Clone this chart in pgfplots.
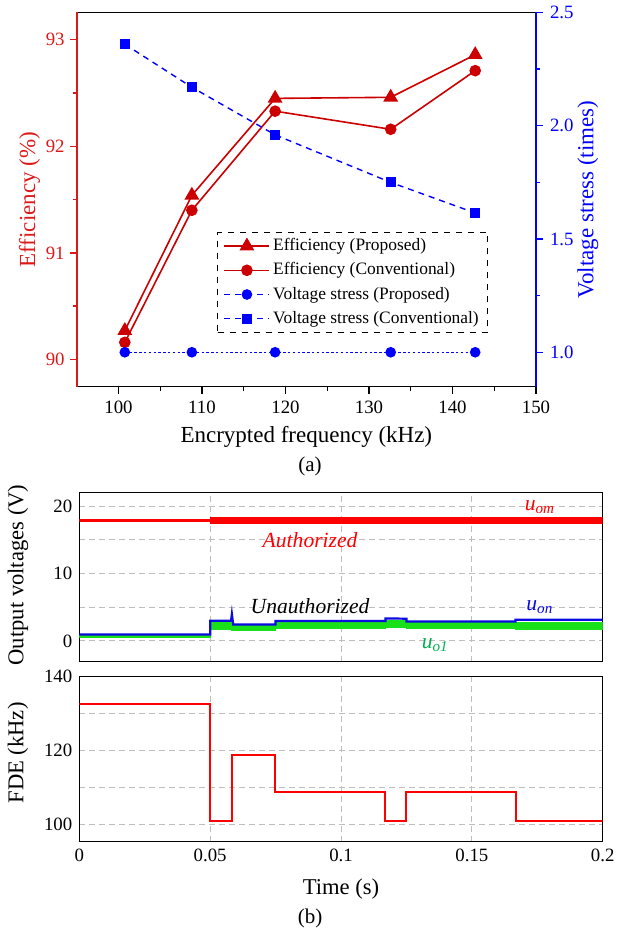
\documentclass[border=0pt]{standalone}
\usepackage{fontspec}
\setmainfont{Liberation Serif}
\usepackage{pgfplots}
\pgfplotsset{compat=1.18}
\definecolor{effred}{RGB}{204,0,0}
\definecolor{axred}{RGB}{220,25,25}
\definecolor{vblue}{RGB}{0,0,255}
\definecolor{simred}{RGB}{255,0,0}
\definecolor{simgreen}{RGB}{25,225,25}
\definecolor{lblgreen}{RGB}{0,176,80}
\definecolor{simblue}{RGB}{10,10,225}
\definecolor{gridgray}{RGB}{190,190,190}
\pgfplotsset{every axis/.append style={/pgf/number format/assume math mode=true}}
\begin{document}
\begin{tikzpicture}
\path[use as bounding box] (0,0) rectangle (309.5pt,-465.5pt);
% ---------------- (a) left axis ----------------
\begin{axis}[
  at={(38.35pt,-6.25pt)}, anchor=north west,
  scale only axis, width=229.65pt, height=187.1pt,
  xmin=95, xmax=150, ymin=89.744, ymax=93.256,
  separate axis lines,
  x axis line style={black, line width=0.6pt},
  y axis line style={axred, line width=0.8pt},
  xtick={100,110,120,130,140,150}, minor x tick num=1,
  ytick={90,91,92,93}, minor y tick num=1,
  xtick pos=bottom, ytick pos=left,
  tick align=outside, major tick length=3.5pt, minor tick length=2pt,
  xtick style={black, line width=0.6pt},
  ytick style={axred, line width=0.7pt},
  tick label style={font=\fontsize{9.4}{10}\selectfont},
  yticklabel style={axred, xshift=1pt},
  xlabel={Encrypted frequency (kHz)},
  xlabel style={at={(axis description cs:0.5,-0.134)}, anchor=center, font=\fontsize{11.5}{13}\selectfont},
  ylabel={Efficiency (\%)},
  ylabel style={at={(axis description cs:-0.103,0.5)}, anchor=center, axred, font=\fontsize{11.5}{13}\selectfont},
]
\addplot[effred, line width=0.8pt, mark=triangle*, mark size=3.5pt, mark options={solid}]
  coordinates {(100.76,90.27) (108.79,91.54) (118.76,92.45) (132.6,92.46) (142.72,92.86)};
\addplot[effred, line width=0.8pt, mark=*, mark size=2.5pt, mark options={solid}]
  coordinates {(100.76,90.16) (108.79,91.40) (118.76,92.33) (132.6,92.16) (142.72,92.71)};
\end{axis}
% ---------------- (a) right axis ----------------
\begin{axis}[
  at={(38.35pt,-6.25pt)}, anchor=north west,
  scale only axis, width=229.65pt, height=187.1pt,
  xmin=95, xmax=150, ymin=0.848, ymax=2.5,
  axis x line=none, axis y line*=right,
  y axis line style={vblue, line width=0.9pt},
  ytick={1,1.5,2,2.5}, minor y tick num=1,
  tick align=outside, major tick length=3.5pt, minor tick length=2pt,
  ytick style={vblue, line width=0.7pt},
  tick label style={font=\fontsize{9.4}{10}\selectfont},
  yticklabel style={vblue, /pgf/number format/fixed, /pgf/number format/fixed zerofill, /pgf/number format/precision=1},
  ylabel={Voltage stress (times)},
  ylabel style={at={(axis description cs:1.113,0.5)}, anchor=center, vblue, font=\fontsize{11.5}{13}\selectfont},
  legend style={at={(axis description cs:0.3055,0.4134)}, anchor=north west,
    draw=black, dashed, line width=0.6pt, fill=white,
    inner xsep=3pt, inner ysep=1pt, row sep=0.6pt,
    font=\fontsize{8.7}{9}\selectfont,
    nodes={inner sep=1.5pt, text height=6.5pt, text depth=2pt},
    cells={anchor=west}},
  legend image code/.code={\draw[mark repeat=2,mark phase=2,#1] plot coordinates {(0pt,0pt) (11.25pt,0pt) (22.5pt,0pt)};},
]
\addlegendimage{effred, line width=0.8pt, solid, mark=triangle*, mark size=3.5pt, mark options={solid}}
\addlegendentry{Efficiency (Proposed)}
\addlegendimage{effred, line width=0.8pt, solid, mark=*, mark size=2.5pt, mark options={solid}}
\addlegendentry{Efficiency (Conventional)}
\addlegendimage{vblue, line width=0.7pt, dash pattern=on 3pt off 2.5pt, mark=*, mark size=2.3pt, mark options={solid}}
\addlegendentry{Voltage stress (Proposed)}
\addplot[vblue, line width=0.7pt, dash pattern=on 1.2pt off 1.2pt, mark=*, mark size=2.3pt, mark options={solid}, forget plot]
  coordinates {(100.76,1) (108.79,1) (118.76,1) (132.6,1) (142.72,1)};
\addplot[vblue, line width=0.7pt, dash pattern=on 3pt off 2.5pt, mark=square*, mark size=2.2pt, mark options={solid}]
  coordinates {(100.76,2.36) (108.79,2.17) (118.76,1.96) (132.6,1.75) (142.72,1.615)};
\addlegendentry{Voltage stress (Conventional)}
\end{axis}
\node[font=\fontsize{10.5}{12}\selectfont] at (155pt,-233pt) {(a)};
% ---------------- (b) top panel ----------------
\begin{axis}[
  at={(39.65pt,-246.35pt)}, anchor=north west,
  scale only axis, width=261.7pt, height=84.5pt,
  xmin=0, xmax=0.2, ymin=-3.07, ymax=21.97,
  xtick={0,0.05,0.1,0.15,0.2}, xticklabels={},
  ytick={0,5,10,15,20}, yticklabels={0,,10,,20},
  grid=major, major grid style={gridgray, dash pattern=on 3pt off 2pt, line width=0.5pt},
  major tick length=0pt,
  axis line style={black, line width=0.7pt},
  tick label style={font=\fontsize{9.4}{10}\selectfont},
  ylabel={Output voltages (V)},
  ylabel style={at={(axis description cs:-0.117,0.513)}, anchor=center, font=\fontsize{11.3}{13}\selectfont},
]
\addplot[simred, line width=1.6pt] coordinates {(0,17.88) (0.05,17.88)};
\addplot[simred, line width=3.4pt] coordinates {(0.05,17.83) (0.2,17.83)};
\addplot[simgreen, fill=simgreen, line width=0.4pt] coordinates {
 (0,0.85) (0.05,0.85) (0.05,2.9) (0.058,2.9) (0.058,2.3) (0.075,2.3) (0.075,2.8) (0.117,2.8)
 (0.117,3.1) (0.125,3.1) (0.125,2.7) (0.1667,2.7) (0.1667,2.8) (0.2,2.8)
 (0.2,1.7) (0.1667,1.7) (0.1667,1.8) (0.125,1.8) (0.125,2.0) (0.117,2.0) (0.117,1.8)
 (0.075,1.8) (0.075,1.5) (0.058,1.5) (0.058,1.7) (0.05,1.7) (0.05,0.55) (0,0.55)} --cycle;
\addplot[simblue, line width=1.1pt] coordinates {
 (0,0.95) (0.05,0.95) (0.05,3.0) (0.058,3.0) (0.0583,4.0) (0.0588,2.45) (0.075,2.45)
 (0.075,2.95) (0.117,2.95) (0.117,3.35) (0.125,3.3) (0.125,2.9) (0.1667,2.9) (0.1667,3.15) (0.2,3.15)};
\node[simred, font=\fontsize{10.8}{12}\selectfont\itshape] at (axis cs:0.176,19.85) {u\textsubscript{om}};
\node[simred, font=\fontsize{10.8}{12}\selectfont\itshape] at (axis cs:0.0882,14.96) {Authorized};
\node[black, font=\fontsize{10.8}{12}\selectfont\itshape] at (axis cs:0.0882,5.2) {Unauthorized};
\node[simblue, font=\fontsize{10.8}{12}\selectfont\itshape] at (axis cs:0.176,5.0) {u\textsubscript{on}};
\node[lblgreen, font=\fontsize{10.8}{12}\selectfont\itshape] at (axis cs:0.136,-0.6) {u\textsubscript{o1}};
\end{axis}
% ---------------- (b) bottom panel ----------------
\begin{axis}[
  at={(39.65pt,-338.35pt)}, anchor=north west,
  scale only axis, width=261.7pt, height=82.5pt,
  xmin=0, xmax=0.2, ymin=95.2, ymax=140,
  xtick={0,0.05,0.1,0.15,0.2}, xticklabels={0,0.05,0.1,0.15,0.2}, scaled x ticks=false,
  ytick={100,110,120,130,140}, yticklabels={100,,120,,140},
  grid=major, major grid style={gridgray, dash pattern=on 3pt off 2pt, line width=0.5pt},
  major tick length=0pt,
  axis line style={black, line width=0.7pt},
  tick label style={font=\fontsize{9.4}{10}\selectfont},
  ylabel={FDE (kHz)},
  ylabel style={at={(axis description cs:-0.117,0.538)}, anchor=center, font=\fontsize{11.3}{13}\selectfont},
  xlabel={Time (s)},
  xlabel style={at={(axis description cs:0.5,-0.288)}, anchor=center, font=\fontsize{11.3}{13}\selectfont},
]
\addplot[simred, line width=1pt, const plot] coordinates {
 (0,132.6) (0.05,100.8) (0.0583,118.7) (0.0747,108.7) (0.1167,100.8) (0.1248,108.7) (0.1667,100.8) (0.2,100.8)};
\end{axis}
\node[font=\fontsize{10.5}{12}\selectfont] at (155pt,-459pt) {(b)};
\end{tikzpicture}
\end{document}
